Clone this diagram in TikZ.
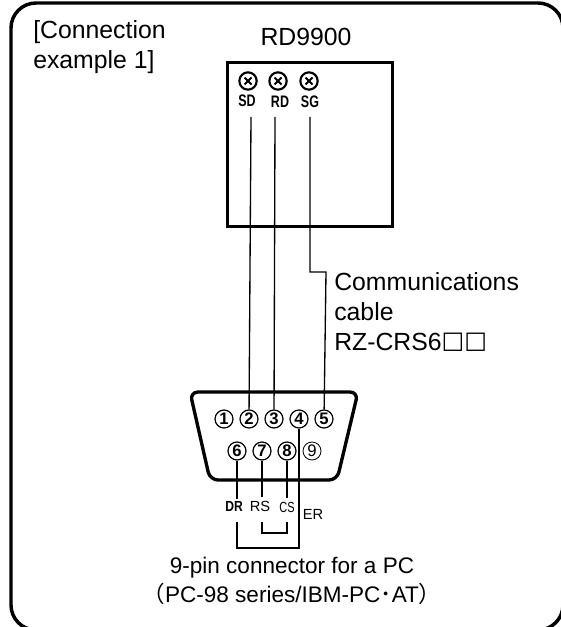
\documentclass[tikz,border=0pt]{standalone}
\usepackage{fontspec}
\setmainfont{Liberation Sans}
\newfontfamily\boxfont{DejaVu Sans}
\newfontfamily\cjkfont{Noto Sans CJK JP}
\usepackage{tikz}
\usetikzlibrary{positioning}

\begin{document}
\begin{tikzpicture}[-,x=0.75pt,y=-0.75pt,node distance=18.75pt,
			pin node/.style={circle,draw,line width=0.9pt,inner sep=0pt,minimum size=13.5pt,font=\fontsize{12.5}{12.5}\selectfont\bfseries},
			thin pin/.style={pin node,line width=0.6pt,font=\fontsize{12.5}{12.5}\selectfont},
			screw node/.style={circle,draw,line width=1.6pt,inner sep=0pt,minimum size=13pt},
			term label/.style={font=\fontsize{12.5}{12.5}\selectfont\bfseries,xscale=0.75,inner sep=0pt},
			pin label/.style={font=\fontsize{11}{11}\selectfont,inner sep=0pt},
			big text/.style={font=\fontsize{18.6}{22.5}\selectfont,inner sep=0pt,align=left},
			wire/.style={line width=1pt},
			screw cross/.style={line width=1.5pt}]
			
			\useasboundingbox (0,0) rectangle (560,627);
			\fill[white] (0,0) rectangle (560,627);
			\draw[line width=2.6pt,rounded corners=18.75pt] (11,3) rectangle (563,630);
			
			\node[big text,anchor=north west] (title) at (33,20) {[Connection\\example 1]};
			\node[big text] (device) at (306,37) {RD9900};
			\node[draw,line width=2.4pt,minimum width=123.5pt,minimum height=123pt,inner sep=0pt,anchor=north west] (box) at (226,61) {};
			
			\node[screw node] (S1) at (248,81) {};
			\node[screw node] (S2) at (278,81) {};
			\node[screw node] (S3) at (309,81) {};
			\foreach \s in {S1,S2,S3} {
				\draw[screw cross] (\s)+(-3.5,-3.5) -- +(3.5,3.5);
				\draw[screw cross] (\s)+(-3.5,3.5) -- +(3.5,-3.5);
			}
			\node[term label] (SD) at (247,101) {SD};
			\node[term label] (RD) at (280,102) {RD};
			\node[term label] (SG) at (310,102) {SG};
			\coordinate (W1) at (251,117);
			\coordinate (W2) at (275,117);
			\coordinate (W3) at (310,117);
			
			\draw[line width=2.5pt,rounded corners=6pt] (190,392) -- (358,392) -- (337,480) -- (210,480) -- cycle;
			\node[pin node] (P1) at (224,419) {1};
			\node[pin node] (P2) [right of=P1] {2};
			\node[pin node] (P3) [right of=P2] {3};
			\node[pin node] (P4) [right of=P3] {4};
			\node[pin node] (P5) [right of=P4] {5};
			\node[pin node] (P6) at (237,451) {6};
			\node[pin node] (P7) [right of=P6] {7};
			\node[pin node] (P8) [right of=P7] {8};
			\node[thin pin] (P9) [right of=P8] {9};
			
			\node[term label,font=\fontsize{11}{11}\selectfont\bfseries,xscale=1.1] (DR) at (234,506) {DR};
			\node[pin label] (RS) at (260,506) {RS};
			\node[pin label,xscale=0.75] (CS) at (287,507) {CS};
			\node[pin label] (ER) at (313,514) {ER};
			\coordinate (J1) at (237,522);
			\coordinate (J2) at (262,522);
			\coordinate (J3) at (287,522);
			
			\node[big text,anchor=north west] (cable) at (334,272) {Communications\\cable\\RZ-CRS6{\boxfont\fontsize{18}{18}\selectfont\raisebox{1.5pt}{□□}}};
			\node[font=\fontsize{16.9}{21.75}\selectfont,inner sep=0pt,align=center] (pc) at (292,581)
				{9-pin connector for a PC\\{\cjkfont （}PC-98 series/IBM-PC{\cjkfont ･}AT{\cjkfont ）}};
			
			\path[wire]
			(W1) edge (P2)
			(W2) edge (P3);
			\draw[wire] (W3) |- (326,272) -- (P5);
			\draw[wire] (P6) -- (237,499);
			\draw[wire] (P7) -- (262,497);
			\draw[wire] (P8) -- (287,498);
			\draw[wire] (J1) |- (299,548) -- (P4);
			\draw[wire] (J2) |- (J3 |- 0,533) -- (J3);
		\end{tikzpicture}
\end{document}
